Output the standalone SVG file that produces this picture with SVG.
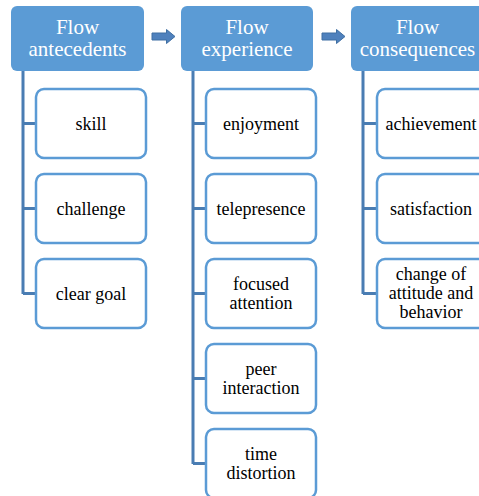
<svg xmlns="http://www.w3.org/2000/svg" width="479" height="496" viewBox="0 0 479 496">
<style>
.hd{fill:#5b9bd5;}
.hdt{font-family:'Liberation Serif','Times New Roman',serif;font-size:21px;fill:#ffffff;text-anchor:middle;}
.ch{fill:#ffffff;stroke:#5b9bd5;stroke-width:2.5;}
.cht{font-family:'Liberation Serif','Times New Roman',serif;font-size:18px;fill:#000000;text-anchor:middle;}
.ln{fill:none;stroke:#4a7db3;stroke-width:3;}
.ar{fill:#4f81bd;stroke:#3f6fa3;stroke-width:1;}
</style>
<rect width="479" height="496" fill="#ffffff"/>
<g id="connectors">
<path class="ln" d="M23,71 V294 M23,123.5 H36 M23,208.5 H36 M23,293.5 H36"/>
<path class="ln" d="M193,71 V464 M193,123.5 H206 M193,208.5 H206 M193,293.5 H206 M193,378.5 H206 M193,463.5 H206"/>
<path class="ln" d="M363,71 V294 M363,123.5 H377 M363,208.5 H377 M363,293.5 H377"/>
<polygon class="ar" points="152,33 166.5,33 166.5,29.5 175,36.5 166.5,43.5 166.5,40 152,40"/>
<polygon class="ar" points="322,33 336.5,33 336.5,29.5 345,36.5 336.5,43.5 336.5,40 322,40"/>
</g>
<g id="h1"><rect class="hd" x="11" y="6" width="133" height="65" rx="6"/><text class="hdt" font-family="Liberation Serif, serif" x="77.5" y="34">Flow</text><text class="hdt" font-family="Liberation Serif, serif" x="77.5" y="56">antecedents</text></g>
<g id="h2"><rect class="hd" x="181" y="6" width="132" height="65" rx="6"/><text class="hdt" font-family="Liberation Serif, serif" x="247" y="34">Flow</text><text class="hdt" font-family="Liberation Serif, serif" x="247" y="56">experience</text></g>
<g id="h3"><rect class="hd" x="351" y="6" width="133" height="65" rx="6"/><text class="hdt" font-family="Liberation Serif, serif" x="417.5" y="34">Flow</text><text class="hdt" font-family="Liberation Serif, serif" x="417.5" y="56">consequences</text></g>
<g font-family="Liberation Serif, serif">
<g id="c1"><rect class="ch" x="36" y="89" width="110" height="69" rx="8"/><text class="cht" x="91" y="129.5">skill</text></g>
<g id="c2"><rect class="ch" x="36" y="174" width="110" height="69" rx="8"/><text class="cht" x="91" y="214.5">challenge</text></g>
<g id="c3"><rect class="ch" x="36" y="259" width="110" height="69" rx="8"/><text class="cht" x="91" y="299.5">clear goal</text></g>
<g id="e1"><rect class="ch" x="206" y="89" width="110" height="69" rx="8"/><text class="cht" x="261" y="129.5">enjoyment</text></g>
<g id="e2"><rect class="ch" x="206" y="174" width="110" height="69" rx="8"/><text class="cht" x="261" y="214.5">telepresence</text></g>
<g id="e3"><rect class="ch" x="206" y="259" width="110" height="69" rx="8"/><text class="cht" x="261" y="289.5">focused</text><text class="cht" x="261" y="308.5">attention</text></g>
<g id="e4"><rect class="ch" x="206" y="344" width="110" height="69" rx="8"/><text class="cht" x="261" y="374.5">peer</text><text class="cht" x="261" y="393.5">interaction</text></g>
<g id="e5"><rect class="ch" x="206" y="429" width="110" height="69" rx="8"/><text class="cht" x="261" y="459.5">time</text><text class="cht" x="261" y="478.5">distortion</text></g>
<g id="q1"><rect class="ch" x="377" y="89" width="110" height="69" rx="8"/><text class="cht" x="431" y="129.5">achievement</text></g>
<g id="q2"><rect class="ch" x="377" y="174" width="110" height="69" rx="8"/><text class="cht" x="431" y="214.5">satisfaction</text></g>
<g id="q3"><rect class="ch" x="377" y="259" width="110" height="69" rx="8"/><text class="cht" x="431" y="280">change of</text><text class="cht" x="431" y="299">attitude and</text><text class="cht" x="431" y="318">behavior</text></g>
</g>
</svg>
